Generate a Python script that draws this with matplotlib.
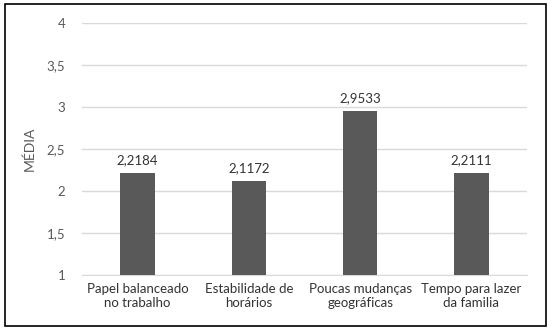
import matplotlib
matplotlib.use("Agg")
import matplotlib.pyplot as plt
from matplotlib.patches import Rectangle

categories = ["Papel balanceado\nno trabalho", "Estabilidade de\nhorários",
              "Poucas mudanças\ngeográficas", "Tempo para lazer\nda familia"]
values = [2.2184, 2.1172, 2.9533, 2.2111]
value_labels = ["2,2184", "2,1172", "2,9533", "2,2111"]
yticks = [1, 1.5, 2, 2.5, 3, 3.5, 4]
ytick_labels = ["1", "1,5", "2", "2,5", "3", "3,5", "4"]

plt.rcParams['font.family'] = ['Lato', 'DejaVu Sans']

fig = plt.figure(figsize=(5.52, 3.34), dpi=100)
ax = fig.add_axes([0.1486, 0.1766, 0.8061, 0.7545])

x = range(len(categories))
ax.bar(x, [v - 1 for v in values], bottom=1, width=0.31, color="#595959", zorder=3)
for i, v in enumerate(values):
    ax.text(i, v + 0.08, value_labels[i], ha="center", va="bottom", fontsize=9.5, color="#333333")

ax.set_xlim(-0.5, len(categories) - 0.5)
ax.set_ylim(1, 4)
ax.set_yticks(yticks)
ax.set_yticklabels(ytick_labels, fontsize=9.5, color="#595959")
ax.set_xticks(list(x))
ax.set_xticklabels(categories, fontsize=9.5, color="#333333", linespacing=1.2)
ax.tick_params(length=0, pad=12, axis="y")
ax.tick_params(length=0, pad=6, axis="x")
ax.grid(axis="y", color="#d9d9d9", linewidth=1, zorder=0)
for s in ax.spines.values():
    s.set_visible(False)
ax.spines["bottom"].set_visible(True)
ax.spines["bottom"].set_color("#d9d9d9")

ax.set_ylabel("MÉDIA", fontsize=10, color="#595959", labelpad=8)

fig.patches.append(Rectangle((5 / 552, 1 - 326 / 334), 541 / 552, 322 / 334,
                             transform=fig.transFigure, fill=False,
                             edgecolor="black", linewidth=1.2))

fig.savefig("out.png", dpi=100)
